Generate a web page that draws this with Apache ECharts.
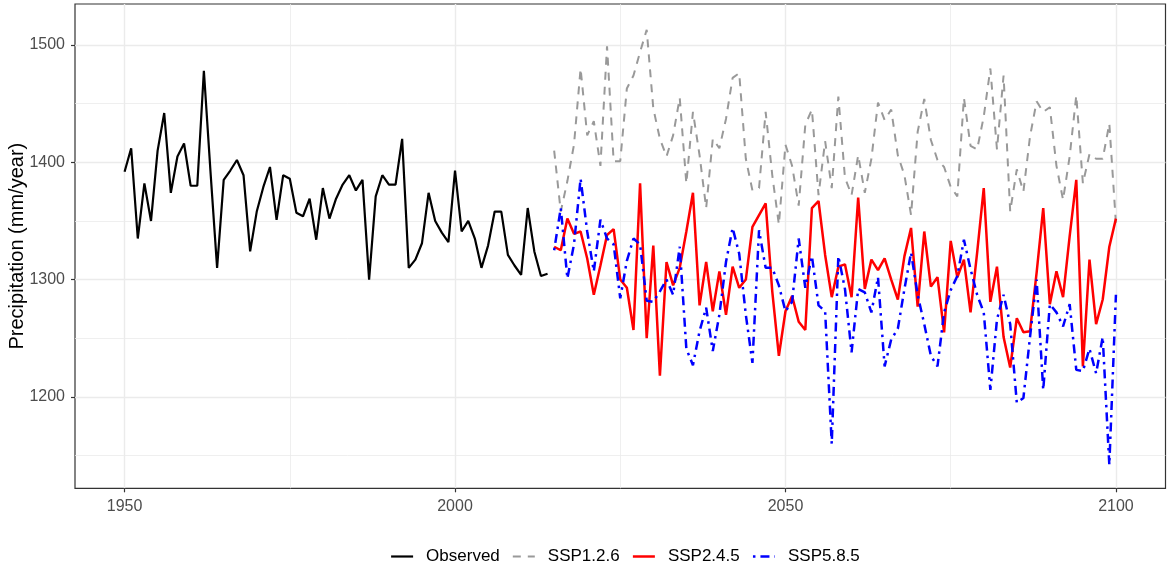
<!DOCTYPE html>
<html>
<head>
<meta charset="utf-8">
<title>Precipitation</title>
<script src="https://cdn.jsdelivr.net/npm/echarts@6/dist/echarts.min.js"></script>
<style>
  html, body { margin: 0; padding: 0; background: #fff; }
  #graphContainer { width: 1170px; height: 566px; }
</style>
</head>
<body>
<div id="graphContainer"></div>
<script>
// observed annual precipitation 1950-2014 (mm/year)
var obsStart = 1950;
var observed = [
	1392, 1412, 1335, 1382, 1350, 1410, 1442, 1374, 1405, 1416,
	1380, 1380, 1478, 1392, 1310, 1385, 1393, 1402, 1389, 1324,
	1358, 1379, 1396, 1351, 1389, 1386, 1357, 1354, 1369, 1334,
	1378, 1352, 1369, 1381, 1389, 1376, 1385, 1300, 1371, 1389,
	1381, 1381, 1420, 1310, 1317, 1331, 1374, 1350, 1340, 1332,
	1393, 1341, 1350, 1335, 1310, 1329, 1358, 1358, 1321, 1312,
	1304, 1361, 1324, 1303, 1305
];

// scenarios 2015-2100
var sspStart = 2015;
var ssp126 = [
	1410, 1358, 1384, 1415, 1480, 1423, 1435, 1397, 1499, 1401,
	1401, 1463, 1474, 1494, 1513, 1446, 1420, 1405, 1423, 1455,
	1382, 1443, 1406, 1361, 1420, 1412, 1437, 1472, 1476, 1403,
	1376, 1378, 1443, 1389, 1347, 1415, 1397, 1363, 1432, 1445,
	1372, 1418, 1378, 1456, 1387, 1372, 1406, 1374, 1403, 1451,
	1436, 1445, 1406, 1389, 1355, 1426, 1454, 1419, 1402, 1396,
	1379, 1371, 1455, 1414, 1411, 1439, 1480, 1411, 1474, 1358,
	1394, 1375, 1422, 1452, 1443, 1447, 1397, 1368, 1405, 1457,
	1382, 1407, 1403, 1403, 1433, 1348
];
var ssp245 = [
	1328, 1325, 1352, 1339, 1341, 1318, 1287, 1312, 1338, 1343,
	1300, 1293, 1257, 1382, 1250, 1329, 1218, 1315, 1295, 1310,
	1341, 1374, 1278, 1315, 1273, 1307, 1270, 1311, 1293, 1300,
	1345, 1355, 1365, 1290, 1235, 1273, 1286, 1264, 1257, 1361,
	1367, 1321, 1285, 1311, 1313, 1285, 1370, 1292, 1317, 1308,
	1318, 1300, 1283, 1320, 1344, 1277, 1341, 1294, 1302, 1255,
	1333, 1302, 1317, 1272, 1323, 1378, 1281, 1311, 1251, 1225,
	1267, 1255, 1256, 1306, 1361, 1279, 1307, 1285, 1337, 1385,
	1226, 1317, 1262, 1283, 1328, 1352
];
var ssp585 = [
	1325, 1361, 1301, 1330, 1386, 1341, 1307, 1351, 1335, 1330,
	1284, 1316, 1335, 1330, 1282, 1281, 1290, 1300, 1287, 1328,
	1241, 1227, 1256, 1276, 1239, 1270, 1315, 1344, 1322, 1270,
	1229, 1342, 1310, 1310, 1295, 1273, 1281, 1335, 1293, 1320,
	1278, 1273, 1160, 1320, 1292, 1238, 1292, 1289, 1272, 1302,
	1226, 1249, 1258, 1292, 1323, 1287, 1262, 1235, 1226, 1272,
	1291, 1303, 1334, 1309, 1287, 1272, 1206, 1266, 1287, 1262,
	1195, 1199, 1251, 1300, 1206, 1279, 1272, 1260, 1279, 1223,
	1222, 1241, 1220, 1251, 1142, 1287
];

var xTicks = [1950, 2000, 2050, 2100];
var xMinor = [1975, 2025, 2075];
var yTicks = [1200, 1300, 1400, 1500];
var yMinor = [1150, 1250, 1350, 1450];

var gray = '#999999';
var grayDash = [8, 7];
var blueDash = [2.5, 5, 9, 5];

function toPairs(start, values) {
	var out = [];
	for (var i = 0; i < values.length; i++) {
		out.push([start + i, values[i]]);
	}
	return out;
}

function plainNumber(value) {
	return String(value);
}

var dom = document.getElementById('graphContainer');
var myEChart = echarts.init(dom, null, { renderer: 'canvas' });

var font = 'Liberation Sans, Arial, sans-serif';
var xMin = 1942.5, xMax = 2107.5;
var yMin = 1122, yMax = 1535;

var option = {
	animation: false,
	textStyle: { fontFamily: font },
	grid: {
		left: 75,
		right: 4.5,
		top: 4,
		bottom: 77.7,
		containLabel: false,
		outerBoundsMode: 'none',
		show: true,
		borderColor: '#333333',
		borderWidth: 1.2,
		backgroundColor: 'transparent'
	},
	legend: {
		left: 390,
		top: 548,
		padding: 0,
		itemWidth: 22,
		itemHeight: 14,
		itemGap: 12,
		itemStyle: { opacity: 0 },
		textStyle: {
			fontFamily: font,
			fontSize: 17,
			color: '#000',
			padding: [0, 0, 0, 8]
		},
		data: [
			{ name: 'Observed', lineStyle: { color: '#000000', width: 2.2 } },
			{ name: 'SSP1.2.6', lineStyle: { color: gray, width: 2, type: grayDash } },
			{ name: 'SSP2.4.5', lineStyle: { color: '#FF0000', width: 2.5 } },
			{ name: 'SSP5.8.5', lineStyle: { color: '#0000FF', width: 2.5, type: blueDash } }
		]
	},
	xAxis: [
		{
			type: 'value',
			min: xMin,
			max: xMax,
			axisLine: { show: false },
			axisTick: {
				show: true,
				length: 4,
				lineStyle: { color: '#333333', width: 1.2 },
				customValues: xTicks
			},
			axisLabel: {
				customValues: xTicks,
				formatter: plainNumber,
				fontFamily: font,
				fontSize: 16,
				color: '#4D4D4D',
				margin: 10
			},
			splitLine: { show: true, lineStyle: { color: '#EBEBEB', width: 1.4 } }
		},
		{
			type: 'value',
			min: xMin,
			max: xMax,
			axisLine: { show: false },
			axisTick: { show: false, customValues: xMinor },
			axisLabel: { show: false, customValues: xMinor },
			splitLine: { show: true, lineStyle: { color: '#EBEBEB', width: 0.8 } }
		}
	],
	yAxis: [
		{
			type: 'value',
			min: yMin,
			max: yMax,
			name: 'Precipitation (mm/year)',
			nameLocation: 'middle',
			nameGap: 48,
			nameMoveOverlap: false,
			nameTextStyle: { fontFamily: font, fontSize: 20, color: '#000' },
			axisLine: { show: false },
			axisTick: {
				show: true,
				length: 4,
				lineStyle: { color: '#333333', width: 1.2 },
				customValues: yTicks
			},
			axisLabel: {
				customValues: yTicks,
				formatter: plainNumber,
				fontFamily: font,
				fontSize: 16,
				color: '#4D4D4D',
				margin: 10
			},
			splitLine: { show: true, lineStyle: { color: '#EBEBEB', width: 1.4 } }
		},
		{
			type: 'value',
			min: yMin,
			max: yMax,
			axisLine: { show: false },
			axisTick: { show: false, customValues: yMinor },
			axisLabel: { show: false, customValues: yMinor },
			splitLine: { show: true, lineStyle: { color: '#EBEBEB', width: 0.8 } }
		}
	],
	series: [
		{
			name: 'Observed',
			type: 'line',
			symbol: 'none',
			data: toPairs(obsStart, observed),
			lineStyle: { color: '#000000', width: 2.2 },
			itemStyle: { color: '#000000' }
		},
		{
			name: 'SSP1.2.6',
			type: 'line',
			symbol: 'none',
			data: toPairs(sspStart, ssp126),
			lineStyle: { color: gray, width: 2, type: grayDash },
			itemStyle: { color: gray }
		},
		{
			name: 'SSP2.4.5',
			type: 'line',
			symbol: 'none',
			data: toPairs(sspStart, ssp245),
			lineStyle: { color: '#FF0000', width: 2.5 },
			itemStyle: { color: '#FF0000' }
		},
		{
			name: 'SSP5.8.5',
			type: 'line',
			symbol: 'none',
			data: toPairs(sspStart, ssp585),
			lineStyle: { color: '#0000FF', width: 2.5, type: blueDash },
			itemStyle: { color: '#0000FF' }
		}
	]
};

myEChart.setOption(option);
window.addEventListener('resize', myEChart.resize);
</script>
</body>
</html>
